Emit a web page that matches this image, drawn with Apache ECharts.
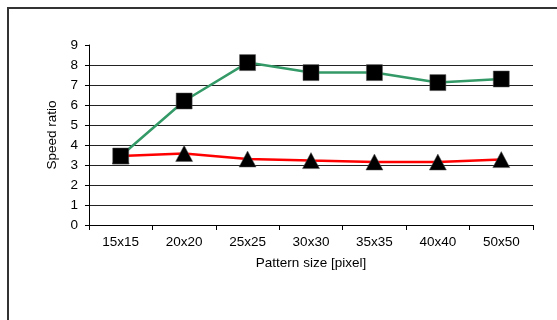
<!DOCTYPE html>
<html>
<head>
<meta charset="utf-8">
<script src="https://cdn.jsdelivr.net/npm/echarts@6/dist/echarts.min.js"></script>
<style>
  html, body { margin: 0; padding: 0; background: #fff; }
  #frame { position: absolute; left: 7px; top: 7px; width: 560px; height: 320px;
           border-left: 2px solid #333; border-top: 2px solid #333; }
  #chart { position: absolute; left: 0; top: 0; width: 557px; height: 320px; }
</style>
</head>
<body>
<div id="frame"></div>
<div id="chart"></div>
<script>
// Pattern sizes on the category axis
const patternSizes = ['15x15', '20x20', '25x25', '30x30', '35x35', '40x40', '50x50'];
// Speed ratio per pattern size, square-marker series
const speedSquares = [3.45, 6.2, 8.12, 7.62, 7.62, 7.12, 7.3];
// Speed ratio per pattern size, triangle-marker series
const speedTriangles = [3.45, 3.58, 3.3, 3.22, 3.15, 3.15, 3.27];
// Value-axis ticks
const yTicks = [0, 1, 2, 3, 4, 5, 6, 7, 8, 9];

const font = 'Liberation Sans, Arial, sans-serif';
const chart = echarts.init(document.getElementById('chart'), null, { renderer: 'canvas' });

chart.setOption({
  animation: false,
  backgroundColor: 'transparent',
  grid: { left: 89, right: 24, top: 45, bottom: 95 },
  xAxis: {
    type: 'category',
    data: patternSizes,
    boundaryGap: true,
    name: 'Pattern size [pixel]',
    nameLocation: 'middle',
    nameGap: 31,
    nameTextStyle: { fontFamily: font, fontSize: 13.5, color: '#000' },
    axisLine: { lineStyle: { color: '#000', width: 1 } },
    axisTick: { show: true, length: 5, alignWithLabel: false, lineStyle: { color: '#000' } },
    axisLabel: { fontFamily: font, fontSize: 13.5, color: '#000', margin: 10 },
    splitLine: { show: false }
  },
  yAxis: {
    type: 'value',
    min: yTicks[0],
    max: yTicks[yTicks.length - 1],
    interval: 1,
    name: 'Speed ratio',
    nameLocation: 'middle',
    nameGap: 24,
    nameTextStyle: { fontFamily: font, fontSize: 13.5, color: '#000' },
    axisLine: { show: true, lineStyle: { color: '#000', width: 1 } },
    axisTick: { show: true, length: 4, lineStyle: { color: '#000' } },
    axisLabel: { fontFamily: font, fontSize: 13.5, color: '#000', margin: 11 },
    splitLine: { show: true, showMaxLine: false, lineStyle: { color: '#222', width: 1 } }
  },
  series: [
    {
      type: 'line',
      data: speedSquares,
      symbol: 'rect',
      symbolSize: 16,
      lineStyle: { color: '#339966', width: 2.5 },
      itemStyle: { color: '#000', borderColor: '#555', borderWidth: 0.5 },
      z: 3
    },
    {
      type: 'line',
      data: speedTriangles,
      symbol: 'triangle',
      symbolSize: [17, 16],
      lineStyle: { color: '#ff0000', width: 2.5 },
      itemStyle: { color: '#000', borderColor: '#555', borderWidth: 0.5 },
      z: 2
    }
  ]
});
</script>
</body>
</html>
